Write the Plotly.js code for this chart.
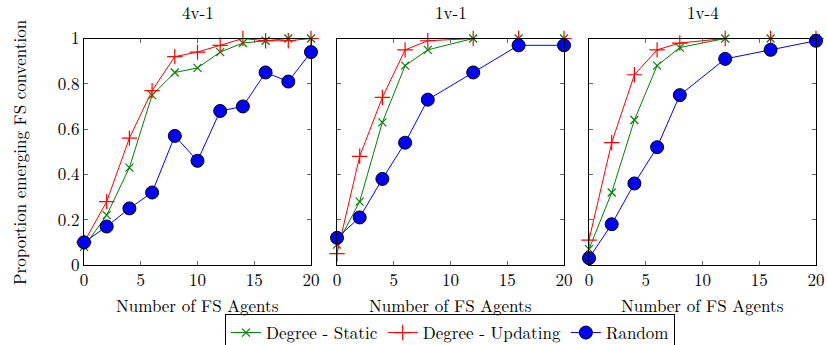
<!DOCTYPE html>
<html>
<head>
<meta charset="utf-8">
<script src="https://cdn.plot.ly/plotly-3.0.1.min.js"></script>
<style>
  html, body { margin: 0; padding: 0; background: #fff; }
  #chart { width: 827px; height: 345px; }
</style>
</head>
<body>
<div id="chart"></div>
<script>
// Panel 4v-1
const agents4v1 = [0, 2, 4, 6, 8, 10, 12, 14, 16, 18, 20];
const static4v1 = [0.08, 0.22, 0.43, 0.75, 0.85, 0.87, 0.94, 0.98, 0.99, 1.0, 1.0];
const updating4v1 = [0.10, 0.28, 0.56, 0.77, 0.92, 0.94, 0.97, 1.0, 0.99, 0.99, 1.0];
const random4v1 = [0.10, 0.17, 0.25, 0.32, 0.57, 0.46, 0.68, 0.70, 0.85, 0.81, 0.94];

// Panel 1v-1
const agents1v1 = [0, 2, 4, 6, 8, 12, 16, 20];
const static1v1 = [0.09, 0.28, 0.63, 0.88, 0.95, 1.0, 1.0, 1.0];
const updating1v1 = [0.05, 0.48, 0.74, 0.95, 0.99, 1.0, 1.0, 1.0];
const random1v1 = [0.12, 0.21, 0.38, 0.54, 0.73, 0.85, 0.97, 0.97];

// Panel 1v-4
const agents1v4 = [0, 2, 4, 6, 8, 12, 16, 20];
const static1v4 = [0.07, 0.32, 0.64, 0.88, 0.96, 1.0, 1.0, 1.0];
const updating1v4 = [0.11, 0.54, 0.84, 0.95, 0.98, 1.0, 1.0, 1.0];
const random1v4 = [0.03, 0.18, 0.36, 0.52, 0.75, 0.91, 0.95, 0.99];

const panelTitles = ['4v-1', '1v-1', '1v-4'];
const seriesNames = ['Degree - Static', 'Degree - Updating', 'Random'];
const xTicks = [0, 5, 10, 15, 20];
const yTicks = [0, 0.2, 0.4, 0.6, 0.8, 1];
const yTickText = ['0', '0.2', '0.4', '0.6', '0.8', '1'];
const xTitle = 'Number of FS Agents';
const yTitle = 'Proportion emerging FS convention';

const FONT = 'Latin Modern Roman';
const FS = 17;
const panels = [
  { x: agents4v1, s: static4v1, u: updating4v1, r: random4v1 },
  { x: agents1v1, s: static1v1, u: updating1v1, r: random1v1 },
  { x: agents1v4, s: static1v4, u: updating1v4, r: random1v4 }
];

const W = 827, H = 345;
const xDomains = [[84 / W, 311 / W], [337 / W, 564 / W], [589 / W, 816 / W]];
const yDomain = [1 - 265 / H, 1 - 38.5 / H];

const traces = [];
panels.forEach((p, i) => {
  const xa = i === 0 ? 'x' : 'x' + (i + 1);
  const ya = i === 0 ? 'y' : 'y' + (i + 1);
  traces.push({
    x: p.x, y: p.s, xaxis: xa, yaxis: ya, type: 'scatter', mode: 'lines+markers',
    name: seriesNames[0], legendgroup: 's', showlegend: i === 0, cliponaxis: false,
    line: { color: 'rgb(0,128,0)', width: 1 },
    marker: { symbol: 'x-thin-open', size: 8, color: 'rgb(0,128,0)', line: { color: 'rgb(0,128,0)', width: 1.2 } }
  });
  traces.push({
    x: p.x, y: p.u, xaxis: xa, yaxis: ya, type: 'scatter', mode: 'lines+markers',
    name: seriesNames[1], legendgroup: 'u', showlegend: i === 0, cliponaxis: false,
    line: { color: '#ff0000', width: 1 },
    marker: { symbol: 'cross-thin-open', size: 11, color: '#ff0000', line: { color: '#ff0000', width: 1.2 } }
  });
  traces.push({
    x: p.x, y: p.r, xaxis: xa, yaxis: ya, type: 'scatter', mode: 'lines+markers',
    name: seriesNames[2], legendgroup: 'r', showlegend: i === 0, cliponaxis: false,
    line: { color: '#0000ff', width: 1 },
    marker: { symbol: 'circle', size: 13, color: '#0000ff', line: { color: '#000', width: 1 } }
  });
});

const layout = {
  width: W, height: H,
  margin: { l: 0, r: 0, t: 0, b: 0, autoexpand: false },
  paper_bgcolor: '#fff', plot_bgcolor: '#fff',
  font: { family: FONT, size: FS, color: '#000' },
  showlegend: true,
  legend: {
    orientation: 'h', x: 450 / W, xanchor: 'center', y: 1 - 314 / H, yanchor: 'top',
    bordercolor: '#000', borderwidth: 1, font: { family: FONT, size: FS, color: '#000' },
    itemwidth: 30, tracegroupgap: 0, traceorder: 'normal'
  },
  annotations: []
};

panels.forEach((p, i) => {
  const sfx = i === 0 ? '' : String(i + 1);
  const cx = (xDomains[i][0] + xDomains[i][1]) / 2;
  layout['xaxis' + sfx] = {
    domain: xDomains[i], range: [0, 20], anchor: 'y' + sfx, automargin: false,
    tickvals: xTicks, ticks: 'inside', ticklen: 4, tickcolor: '#666',
    showline: true, linecolor: '#000', linewidth: 1, mirror: 'ticks',
    showgrid: false, zeroline: false,
    tickfont: { family: FONT, size: FS, color: '#000' }
  };
  layout['yaxis' + sfx] = {
    domain: yDomain, range: [0, 1], anchor: 'x' + sfx, automargin: false,
    tickvals: yTicks, ticktext: yTickText, ticks: 'inside', ticklen: 4, tickcolor: '#666',
    showticklabels: i === 0,
    showline: true, linecolor: '#000', linewidth: 1, mirror: 'ticks',
    showgrid: false, zeroline: false,
    tickfont: { family: FONT, size: FS, color: '#000' }
  };
  layout.annotations.push({
    text: panelTitles[i], xref: 'paper', yref: 'paper',
    x: cx, y: 1 - 12 / H, xanchor: 'center', yanchor: 'middle', showarrow: false,
    font: { family: FONT, size: FS, color: '#000' }
  });
  layout.annotations.push({
    text: xTitle, xref: 'paper', yref: 'paper',
    x: cx, y: 1 - 305 / H, xanchor: 'center', yanchor: 'middle', showarrow: false,
    font: { family: FONT, size: FS, color: '#000' }
  });
});

layout.annotations.push({
  text: yTitle, xref: 'paper', yref: 'paper', textangle: -90,
  x: 19 / W, y: 1 - 152 / H, xanchor: 'center', yanchor: 'middle', showarrow: false,
  font: { family: FONT, size: FS, color: '#000' }
});

Plotly.newPlot('chart', traces, layout, { displayModeBar: false, staticPlot: true });
</script>
</body>
</html>
